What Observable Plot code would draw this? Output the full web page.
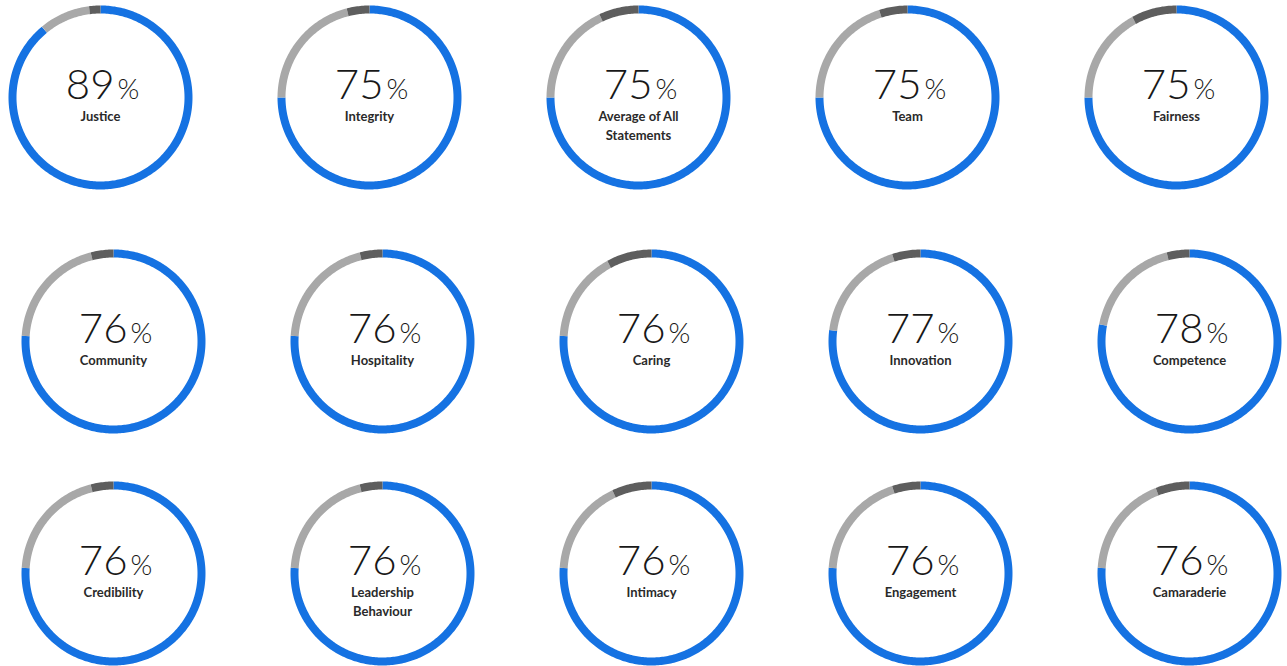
<!DOCTYPE html>
<html>
<head>
<meta charset="utf-8">
<script src="https://cdn.jsdelivr.net/npm/d3@7"></script>
<script src="https://cdn.jsdelivr.net/npm/@observablehq/plot@0.6"></script>
<style>
  html, body { margin: 0; padding: 0; background: #fff; }
  #chart svg { display: block; }
</style>
</head>
<body>
<div id="chart"></div>
<script>
// Categories (ring labels), in reading order
const labels = ["Justice", "Integrity", "Average of All\nStatements", "Team", "Fairness",
                "Community", "Hospitality", "Caring", "Innovation", "Competence",
                "Credibility", "Leadership\nBehaviour", "Intimacy", "Engagement", "Camaraderie"];
// Share agreeing (blue arc, printed value)
const agree = [89, 75, 75, 75, 75, 76, 76, 76, 77, 78, 76, 76, 76, 76, 76];
// Share disagreeing (dark grey arc)
const disagree = [2, 4, 7, 5, 8, 4, 4, 8, 5, 4, 4, 4, 7, 5, 6];
// Remaining share (light grey arc)
const neutral = agree.map((a, i) => 100 - a - disagree[i]);

const segNames = ["Agree", "Neutral", "Disagree"];

// Layout (computed in code, not data)
const W = 1287, H = 666;
const rowX0 = [100, 113, 113];
const rowY = [97, 341, 573];
const colStep = 269;
const R = 88;

const rings = labels.map((label, i) => {
  const row = Math.floor(i / 5), col = i % 5;
  return {i, label, agree: agree[i], neutral: neutral[i], disagree: disagree[i],
          cx: rowX0[row] + col * colStep, cy: rowY[row]};
});

// Arc paths sampled along each segment
const arcPts = [];
for (const r of rings) {
  const parts = [r.agree, r.neutral, r.disagree];
  let start = 0;
  parts.forEach((v, k) => {
    const end = start + v;
    const n = Math.max(2, Math.ceil(v * 3.6));
    for (let j = 0; j <= n; j++) {
      const t = (start + (end - start) * j / n) / 100 * 2 * Math.PI;
      arcPts.push({ring: r.i, seg: segNames[k], key: r.i + "-" + k,
                   x: r.cx + R * Math.sin(t), y: r.cy - R * Math.cos(t)});
    }
    start = end;
  });
}

const font = "Lato, 'Open Sans', sans-serif";

const chart = Plot.plot({
  width: W, height: H,
  margin: 0,
  x: {domain: [0, W], range: [0, W], axis: null},
  y: {domain: [0, H], range: [0, H], axis: null},
  color: {domain: segNames, range: ["#1572e2", "#a8a8a8", "#5e5e5e"]},
  style: {background: "#fff", fontFamily: font},
  marks: [
    Plot.line(arcPts, {x: "x", y: "y", z: "key", stroke: "seg",
                       strokeWidth: 8, strokeLinecap: "butt", curve: "linear"}),
    Plot.text(rings, {x: d => d.cx + 14, y: d => d.cy + 1, text: d => String(d.agree),
                      textAnchor: "end", lineAnchor: "bottom", fontSize: 42, fontWeight: 300,
                      fill: "#181818", fontFamily: font}),
    Plot.text(rings, {x: d => d.cx + 17, y: d => d.cy + 1, text: d => "%",
                      textAnchor: "start", lineAnchor: "bottom", fontSize: 28, fontWeight: 300,
                      fill: "#181818", fontFamily: font}),
    Plot.text(rings, {x: "cx", y: d => d.cy + 11, text: "label",
                      textAnchor: "middle", lineAnchor: "top", lineHeight: 1.4,
                      fontSize: 13, fontWeight: 700, fill: "#2a2a2a", fontFamily: font})
  ]
});
document.getElementById("chart").append(chart);
</script>
</body>
</html>
